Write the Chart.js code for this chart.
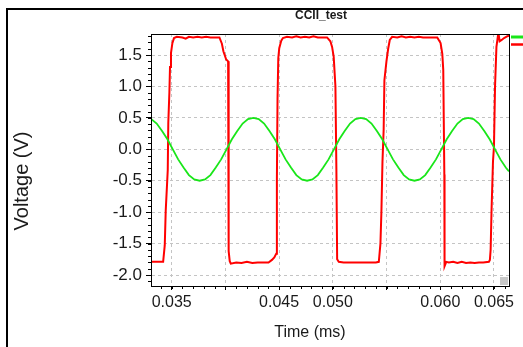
<!DOCTYPE html>
<html>
<head>
<meta charset="utf-8">
<script src="https://cdn.jsdelivr.net/npm/chart.js@4.4.0/dist/chart.umd.min.js"></script>
<style>
  html, body { margin: 0; padding: 0; background: #fff; overflow: hidden; width: 523px; height: 347px; }
  #marco { position: absolute; left: 6px; top: 8px; width: 600px; height: 400px; border-left: 2px solid #000; border-top: 2px solid #000; }
  #grafico { position: absolute; left: 8px; top: 10px; }
</style>
</head>
<body>
<div id="marco"></div>
<canvas id="grafico" width="515" height="337"></canvas>
<script>
// CCII_test: entrada senoidal (verde) y salida del comparador (rojo)

const titulo = 'CCII_test';
const tituloX = 'Time (ms)';
const tituloY = 'Voltage (V)';

const xMin = 0.03307, xMax = 0.0664;
const yMin = -2.175, yMax = 1.835;

const xTicks = [0.035, 0.040, 0.045, 0.050, 0.055, 0.060, 0.065];
const xTickLabels = ['0.035', '', '0.045', '0.050', '', '0.060', '0.065'];
const yTicks = [-2.0, -1.5, -1.0, -0.5, 0.0, 0.5, 1.0, 1.5];
const yTickLabels = ['-2.0', '-1.5', '-1.0', '-0.5', '0.0', '0.5', '1.0', '1.5'];

// Señal verde (entrada)
const verdeT = [
  0.0331, 0.0336, 0.0341, 0.0346, 0.0351, 0.0356, 0.0361, 0.0366, 0.0371, 0.0376,
  0.0381, 0.0386, 0.0391, 0.0396, 0.0401, 0.0406, 0.0411, 0.0416, 0.0421, 0.0426,
  0.0431, 0.0436, 0.0441, 0.0446, 0.0451, 0.0456, 0.0461, 0.0466, 0.0471, 0.0476,
  0.0481, 0.0486, 0.0491, 0.0496, 0.0501, 0.0506, 0.0511, 0.0516, 0.0521, 0.0526,
  0.0531, 0.0536, 0.0541, 0.0546, 0.0551, 0.0556, 0.0561, 0.0566, 0.0571, 0.0576,
  0.0581, 0.0586, 0.0591, 0.0596, 0.0601, 0.0606, 0.0611, 0.0616, 0.0621, 0.0626,
  0.0631, 0.0636, 0.0641, 0.0646, 0.0651, 0.0656, 0.0661, 0.0664
];
const verdeV = [
  0.48, 0.41, 0.29, 0.16, 0.00, -0.16, -0.29, -0.41, -0.48, -0.50,
  -0.48, -0.41, -0.29, -0.16, 0.00, 0.16, 0.29, 0.41, 0.48, 0.50,
  0.48, 0.41, 0.29, 0.16, 0.00, -0.16, -0.29, -0.41, -0.48, -0.50,
  -0.48, -0.41, -0.29, -0.16, 0.00, 0.16, 0.29, 0.41, 0.48, 0.50,
  0.48, 0.41, 0.29, 0.16, 0.00, -0.16, -0.29, -0.41, -0.48, -0.50,
  -0.48, -0.41, -0.29, -0.16, 0.00, 0.16, 0.29, 0.41, 0.48, 0.50,
  0.48, 0.41, 0.29, 0.16, 0.00, -0.16, -0.29, -0.35
];

// Señal roja (salida)
const rojoT = [
  0.0331, 0.0342, 0.03435, 0.03444, 0.03463, 0.03468, 0.03478, 0.03484, 0.03493, 0.03506, 0.03521, 0.03547,
  0.0360, 0.0363, 0.0366, 0.0370, 0.0374, 0.0378, 0.0382, 0.0386, 0.0390,
  0.03944, 0.03967, 0.03981, 0.04007, 0.04025, 0.04030, 0.04040, 0.04050,
  0.0410, 0.0415, 0.0420, 0.0425, 0.0430, 0.0435,
  0.04401, 0.04433, 0.04455, 0.04473, 0.04479, 0.04485, 0.04492, 0.04501, 0.0452, 0.04535, 0.04573,
  0.0462, 0.0466, 0.0470, 0.0474, 0.0478, 0.0482, 0.0486, 0.0490,
  0.04946, 0.04977, 0.04993, 0.05008, 0.05024, 0.05033, 0.0504, 0.05055,
  0.0510, 0.0515, 0.0520, 0.0525, 0.0530, 0.0535, 0.0540,
  0.05428, 0.05443, 0.05452, 0.05462, 0.05473, 0.0548, 0.05499, 0.05515, 0.0553, 0.05552,
  0.0560, 0.0564, 0.0568, 0.0572, 0.0576, 0.0580, 0.0584, 0.0588, 0.0592,
  0.05972, 0.06003, 0.06019, 0.06028, 0.06038, 0.0604, 0.06056, 0.0608,
  0.0612, 0.0616, 0.0620, 0.0624, 0.0628, 0.0632, 0.0636, 0.0640,
  0.06453, 0.06462, 0.06469, 0.06477, 0.06491, 0.0650, 0.0651, 0.06523, 0.06532, 0.06541,
  0.06553, 0.06572, 0.06594, 0.06625, 0.06646
];
const rojoV = [
  -1.79, -1.79, -1.53, -0.98, -0.33, 0.42, 0.90, 1.31, 1.53, 1.69, 1.77, 1.79,
  1.78, 1.76, 1.79, 1.78, 1.79, 1.78, 1.79, 1.78, 1.78,
  1.78, 1.68, 1.56, 1.43, 1.40, -1.62, -1.78, -1.82,
  -1.80, -1.81, -1.79, -1.81, -1.80, -1.80,
  -1.80, -1.76, -1.72, -1.66, -0.50, 0.80, 1.45, 1.61, 1.73, 1.77, 1.79,
  1.78, 1.80, 1.78, 1.79, 1.78, 1.80, 1.78, 1.78,
  1.78, 1.72, 1.63, 1.47, 1.00, -0.33, -1.75, -1.79,
  -1.80, -1.80, -1.80, -1.80, -1.80, -1.80, -1.80,
  -1.79, -1.50, -1.00, -0.20, 0.31, 1.10, 1.40, 1.60, 1.74, 1.79,
  1.78, 1.80, 1.78, 1.79, 1.78, 1.79, 1.78, 1.78, 1.78,
  1.78, 1.69, 1.52, 1.26, -0.40, -1.86, -1.79, -1.80,
  -1.79, -1.81, -1.79, -1.81, -1.80, -1.81, -1.80, -1.80,
  -1.79, -1.76, -1.60, -1.00, -0.19, 0.04, 1.00, 1.63, 1.74, 1.86,
  1.72, 1.74, 1.77, 1.80, 1.81
];

const fuente = 'Arial, "Liberation Sans", sans-serif';

// Marco, textos, marcas menores y leyenda recortada
const decoracion = {
  id: 'decoracion',
  afterDraw(chart) {
    const ctx = chart.ctx;
    const a = chart.chartArea;
    const sx = chart.scales.x, sy = chart.scales.y;
    ctx.save();

    // marcas menores
    ctx.strokeStyle = '#000';
    ctx.lineWidth = 1;
    ctx.beginPath();
    for (let v = -2.1; v <= 1.81; v += 0.1) {
      const py = Math.round(sy.getPixelForValue(v)) + 0.5;
      ctx.moveTo(a.left - 3, py);
      ctx.lineTo(a.left, py);
    }
    for (let v = 0.034; v <= 0.0661; v += 0.001) {
      const px = Math.round(sx.getPixelForValue(v)) + 0.5;
      ctx.moveTo(px, a.bottom);
      ctx.lineTo(px, a.bottom + 3);
    }
    ctx.stroke();

    // caja del área de trazado
    ctx.strokeRect(Math.round(a.left) + 0.5, Math.round(a.top) + 0.5,
      Math.round(a.right - a.left), Math.round(a.bottom - a.top));

    // cuadrito gris de la esquina
    ctx.fillStyle = '#c8c8c8';
    ctx.fillRect(a.right - 9, a.bottom - 9, 8, 8);

    // leyenda (cortada en el borde)
    ctx.lineWidth = 3;
    ctx.strokeStyle = '#19e619';
    ctx.beginPath(); ctx.moveTo(a.right + 2, a.top + 3); ctx.lineTo(chart.width, a.top + 3); ctx.stroke();
    ctx.lineWidth = 2.5;
    ctx.strokeStyle = '#ff0000';
    ctx.beginPath(); ctx.moveTo(a.right + 2, a.top + 10.5); ctx.lineTo(chart.width, a.top + 10.5); ctx.stroke();

    // textos
    ctx.fillStyle = '#1a1a1a';
    ctx.textAlign = 'center';
    ctx.textBaseline = 'middle';
    ctx.font = 'bold 12px ' + fuente;
    ctx.fillText(titulo, 313, 6);
    ctx.font = '16px ' + fuente;
    ctx.fillText(tituloX, 302, 323);
    ctx.translate(14, 171);
    ctx.rotate(-Math.PI / 2);
    ctx.font = '20px ' + fuente;
    ctx.fillText(tituloY, 0, 0);
    ctx.restore();
  }
};

const ctx = document.getElementById('grafico').getContext('2d');
new Chart(ctx, {
  type: 'line',
  data: {
    datasets: [
      {
        label: 'Vin',
        data: verdeT.map((t, i) => ({ x: t, y: verdeV[i] })),
        borderColor: '#19e619',
        borderWidth: 1.8,
        pointRadius: 0,
        tension: 0
      },
      {
        label: 'Vout',
        data: rojoT.map((t, i) => ({ x: t, y: rojoV[i] })),
        borderColor: '#ff0000',
        borderWidth: 2,
        pointRadius: 0,
        tension: 0
      }
    ]
  },
  options: {
    responsive: false,
    animation: false,
    layout: { padding: { left: 0, right: 14, top: 24, bottom: 0 } },
    plugins: {
      legend: { display: false },
      title: { display: false },
      tooltip: { enabled: false }
    },
    scales: {
      x: {
        type: 'linear',
        min: xMin,
        max: xMax,
        afterBuildTicks: s => { s.ticks = xTicks.map(v => ({ value: v })); },
        afterFit: s => { s.height = 61; },
        grid: { color: '#c4c4c4', tickColor: '#000', tickLength: 4, tickBorderDash: [] },
        border: { color: '#000', dash: [3, 3] },
        ticks: {
          autoSkip: false,
          maxRotation: 0,
          padding: 3,
          color: '#1a1a1a',
          font: { family: fuente, size: 16 },
          callback: (v, i) => xTickLabels[i]
        }
      },
      y: {
        min: yMin,
        max: yMax,
        afterBuildTicks: s => { s.ticks = yTicks.map(v => ({ value: v })); },
        afterFit: s => { s.width = 143; },
        grid: { color: '#c4c4c4', tickColor: '#000', tickLength: 5, tickBorderDash: [] },
        border: { color: '#000', dash: [3, 3] },
        ticks: {
          autoSkip: false,
          padding: 4,
          color: '#1a1a1a',
          font: { family: fuente, size: 17 },
          callback: (v, i) => yTickLabels[i]
        }
      }
    }
  },
  plugins: [decoracion]
});
</script>
</body>
</html>
